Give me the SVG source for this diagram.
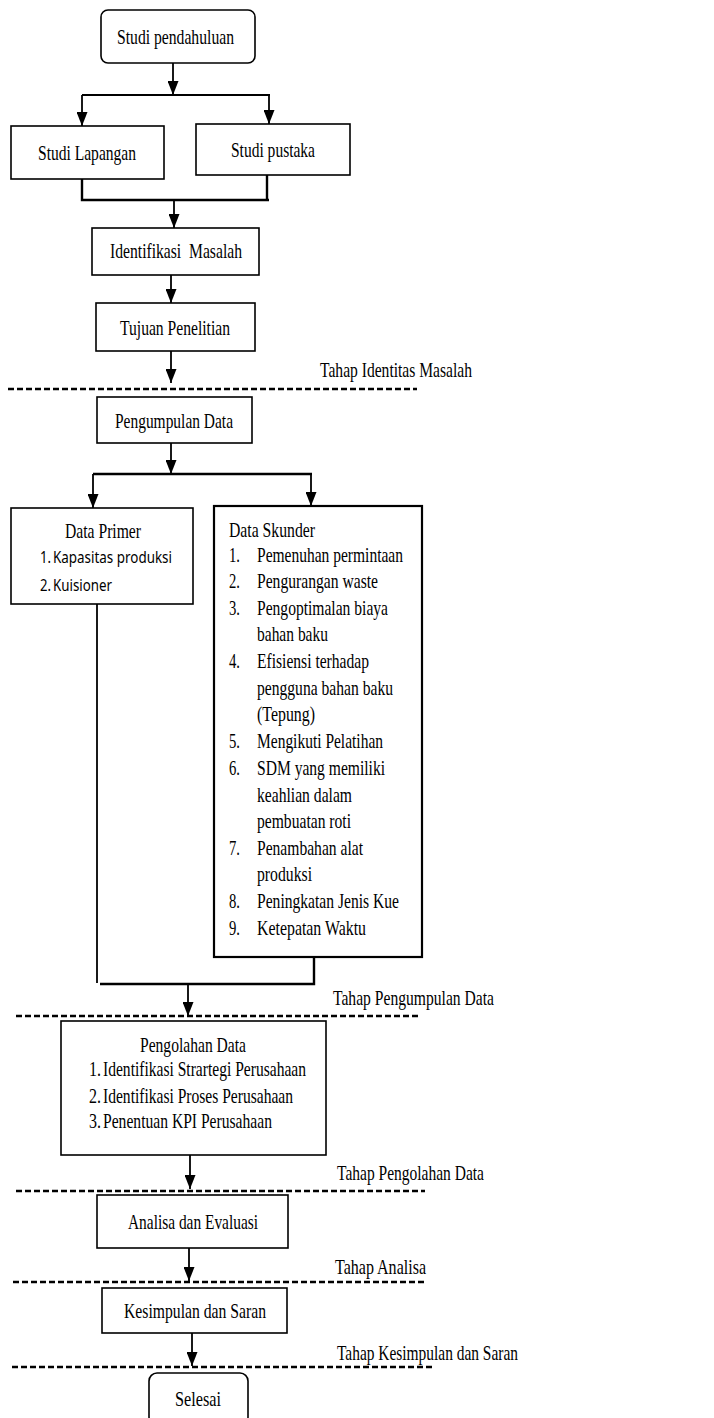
<svg xmlns="http://www.w3.org/2000/svg" width="714" height="1418" viewBox="0 0 714 1418">
<style>
.box{fill:#fff;stroke:#000;stroke-width:1.6}
.thick{stroke-width:2.2}
.t{font-family:"Liberation Serif","Times New Roman",serif;font-size:22px;fill:#000}
.s{font-family:"Noto Sans","Open Sans",sans-serif;font-size:17px;fill:#000}
.c{fill:none;stroke:#000;stroke-width:1.8}
.j{fill:none;stroke:#000;stroke-width:2.4}
.a{fill:none;stroke:#000;stroke-width:1.8;marker-end:url(#ah)}
.d{fill:none;stroke:#000;stroke-width:2.5;stroke-dasharray:6 3}
</style>
<defs>
<marker id="ah" markerUnits="userSpaceOnUse" markerWidth="14" markerHeight="11" refX="14" refY="5.5" orient="auto" viewBox="0 0 14 11">
<path d="M0,0 L14,5.5 L0,11 z" fill="#000"/>
</marker>
</defs>
<rect width="714" height="1418" fill="#fff"/>

<g id="connectors">
<line class="a" x1="173" y1="63" x2="173" y2="95"/>
<line class="c" x1="82" y1="95" x2="270" y2="95"/>
<line class="a" x1="82" y1="95" x2="82" y2="126"/>
<line class="a" x1="269" y1="95" x2="269" y2="124"/>
<polyline class="j" points="82,179 82,200 269,200"/>
<line class="j" x1="267" y1="175" x2="267" y2="200"/>
<line class="a" x1="174" y1="200" x2="174" y2="228"/>
<line class="a" x1="171" y1="275" x2="171" y2="303"/>
<line class="a" x1="171" y1="351" x2="171" y2="383"/>
<line class="a" x1="171" y1="443" x2="171" y2="474"/>
<line class="j" x1="93" y1="474" x2="312" y2="474"/>
<line class="a" x1="93" y1="474" x2="93" y2="508"/>
<line class="a" x1="311" y1="474" x2="311" y2="506"/>
<line class="c" x1="97" y1="604" x2="97" y2="983"/>
<polyline class="j" points="100,984 314,984 314,957"/>
<line class="a" x1="188" y1="984" x2="188" y2="1016"/>
<line class="a" x1="190" y1="1155" x2="190" y2="1189"/>
<line class="a" x1="189" y1="1248" x2="189" y2="1281"/>
<line class="a" x1="192" y1="1333" x2="192" y2="1366"/>
</g>

<g id="separators">
<line class="d" x1="8" y1="389" x2="417" y2="389"/>
<line class="d" x1="16" y1="1016" x2="419" y2="1016"/>
<line class="d" x1="16" y1="1191" x2="425" y2="1191"/>
<line class="d" x1="13" y1="1282" x2="427" y2="1282"/>
<line class="d" x1="12" y1="1367" x2="433" y2="1367"/>
<text class="t" x="320" y="377" textLength="152" lengthAdjust="spacingAndGlyphs">Tahap Identitas Masalah</text>
<text class="t" x="333" y="1005" textLength="161" lengthAdjust="spacingAndGlyphs">Tahap Pengumpulan Data</text>
<text class="t" x="337" y="1180" textLength="147" lengthAdjust="spacingAndGlyphs">Tahap Pengolahan Data</text>
<text class="t" x="335" y="1274" textLength="91" lengthAdjust="spacingAndGlyphs">Tahap Analisa</text>
<text class="t" x="337" y="1360" textLength="181" lengthAdjust="spacingAndGlyphs">Tahap Kesimpulan dan Saran</text>
</g>

<g id="studi-pendahuluan">
<rect class="box" x="101" y="10" width="154" height="53" rx="7"/>
<text class="t" x="117" y="44" textLength="117" lengthAdjust="spacingAndGlyphs">Studi pendahuluan</text>
</g>
<g id="studi-lapangan">
<rect class="box" x="11" y="126" width="153" height="53"/>
<text class="t" x="38" y="160" textLength="98" lengthAdjust="spacingAndGlyphs">Studi Lapangan</text>
</g>
<g id="studi-pustaka">
<rect class="box" x="196" y="124" width="154" height="51"/>
<text class="t" x="231" y="157" textLength="84" lengthAdjust="spacingAndGlyphs">Studi pustaka</text>
</g>
<g id="identifikasi-masalah">
<rect class="box" x="92" y="228" width="167" height="47"/>
<text class="t" x="110" y="258" textLength="132" lengthAdjust="spacingAndGlyphs" xml:space="preserve">Identifikasi  Masalah</text>
</g>
<g id="tujuan-penelitian">
<rect class="box" x="96" y="303" width="159" height="48"/>
<text class="t" x="120" y="335" textLength="110" lengthAdjust="spacingAndGlyphs">Tujuan Penelitian</text>
</g>
<g id="pengumpulan-data">
<rect class="box" x="97" y="397" width="155" height="46"/>
<text class="t" x="115" y="428" textLength="118" lengthAdjust="spacingAndGlyphs">Pengumpulan Data</text>
</g>
<g id="data-primer">
<rect class="box" x="11" y="508" width="182" height="96"/>
<text class="t" x="65" y="538" textLength="76" lengthAdjust="spacingAndGlyphs">Data Primer</text>
<text class="s" x="40" y="563" textLength="11" lengthAdjust="spacingAndGlyphs">1.</text>
<text class="s" x="53" y="563" textLength="119" lengthAdjust="spacingAndGlyphs">Kapasitas produksi</text>
<text class="s" x="40" y="591" textLength="11" lengthAdjust="spacingAndGlyphs">2.</text>
<text class="s" x="53" y="591" textLength="59" lengthAdjust="spacingAndGlyphs">Kuisioner</text>
</g>
<g id="data-skunder">
<rect class="box thick" x="214" y="506" width="208" height="451"/>
<text class="t" x="229" y="537" textLength="86" lengthAdjust="spacingAndGlyphs">Data Skunder</text>
<text class="t" x="229" y="562" textLength="11" lengthAdjust="spacingAndGlyphs">1.</text>
<text class="t" x="257" y="562" textLength="146" lengthAdjust="spacingAndGlyphs">Pemenuhan permintaan</text>
<text class="t" x="229" y="588" textLength="11" lengthAdjust="spacingAndGlyphs">2.</text>
<text class="t" x="257" y="588" textLength="121" lengthAdjust="spacingAndGlyphs">Pengurangan waste</text>
<text class="t" x="229" y="615" textLength="11" lengthAdjust="spacingAndGlyphs">3.</text>
<text class="t" x="257" y="615" textLength="131" lengthAdjust="spacingAndGlyphs">Pengoptimalan biaya</text>
<text class="t" x="257" y="641" textLength="71" lengthAdjust="spacingAndGlyphs">bahan baku</text>
<text class="t" x="229" y="668" textLength="11" lengthAdjust="spacingAndGlyphs">4.</text>
<text class="t" x="257" y="668" textLength="112" lengthAdjust="spacingAndGlyphs">Efisiensi terhadap</text>
<text class="t" x="257" y="695" textLength="136" lengthAdjust="spacingAndGlyphs">pengguna bahan baku</text>
<text class="t" x="257" y="721" textLength="58" lengthAdjust="spacingAndGlyphs">(Tepung)</text>
<text class="t" x="229" y="748" textLength="11" lengthAdjust="spacingAndGlyphs">5.</text>
<text class="t" x="257" y="748" textLength="126" lengthAdjust="spacingAndGlyphs">Mengikuti Pelatihan</text>
<text class="t" x="229" y="775" textLength="11" lengthAdjust="spacingAndGlyphs">6.</text>
<text class="t" x="257" y="775" textLength="128" lengthAdjust="spacingAndGlyphs">SDM yang memiliki</text>
<text class="t" x="257" y="802" textLength="95" lengthAdjust="spacingAndGlyphs">keahlian dalam</text>
<text class="t" x="257" y="828" textLength="94" lengthAdjust="spacingAndGlyphs">pembuatan roti</text>
<text class="t" x="229" y="855" textLength="11" lengthAdjust="spacingAndGlyphs">7.</text>
<text class="t" x="257" y="855" textLength="106" lengthAdjust="spacingAndGlyphs">Penambahan alat</text>
<text class="t" x="257" y="881" textLength="55" lengthAdjust="spacingAndGlyphs">produksi</text>
<text class="t" x="229" y="908" textLength="11" lengthAdjust="spacingAndGlyphs">8.</text>
<text class="t" x="257" y="908" textLength="142" lengthAdjust="spacingAndGlyphs">Peningkatan Jenis Kue</text>
<text class="t" x="229" y="935" textLength="11" lengthAdjust="spacingAndGlyphs">9.</text>
<text class="t" x="257" y="935" textLength="109" lengthAdjust="spacingAndGlyphs">Ketepatan Waktu</text>
</g>
<g id="pengolahan-data">
<rect class="box" x="61" y="1021" width="265" height="134"/>
<text class="t" x="140" y="1052" textLength="106" lengthAdjust="spacingAndGlyphs">Pengolahan Data</text>
<text class="t" x="89" y="1076" textLength="12" lengthAdjust="spacingAndGlyphs">1.</text>
<text class="t" x="103" y="1076" textLength="203" lengthAdjust="spacingAndGlyphs">Identifikasi Strartegi Perusahaan</text>
<text class="t" x="89" y="1103" textLength="12" lengthAdjust="spacingAndGlyphs">2.</text>
<text class="t" x="103" y="1103" textLength="190" lengthAdjust="spacingAndGlyphs">Identifikasi Proses Perusahaan</text>
<text class="t" x="89" y="1128" textLength="12" lengthAdjust="spacingAndGlyphs">3.</text>
<text class="t" x="103" y="1128" textLength="169" lengthAdjust="spacingAndGlyphs">Penentuan KPI Perusahaan</text>
</g>
<g id="analisa-evaluasi">
<rect class="box" x="97" y="1195" width="191" height="53"/>
<text class="t" x="128" y="1229" textLength="130" lengthAdjust="spacingAndGlyphs">Analisa dan Evaluasi</text>
</g>
<g id="kesimpulan-saran">
<rect class="box" x="102" y="1288" width="185" height="45"/>
<text class="t" x="124" y="1318" textLength="142" lengthAdjust="spacingAndGlyphs">Kesimpulan dan Saran</text>
</g>
<g id="selesai">
<rect class="box" x="149" y="1373" width="99" height="52" rx="8"/>
<text class="t" x="175" y="1406" textLength="46" lengthAdjust="spacingAndGlyphs">Selesai</text>
</g>
</svg>
